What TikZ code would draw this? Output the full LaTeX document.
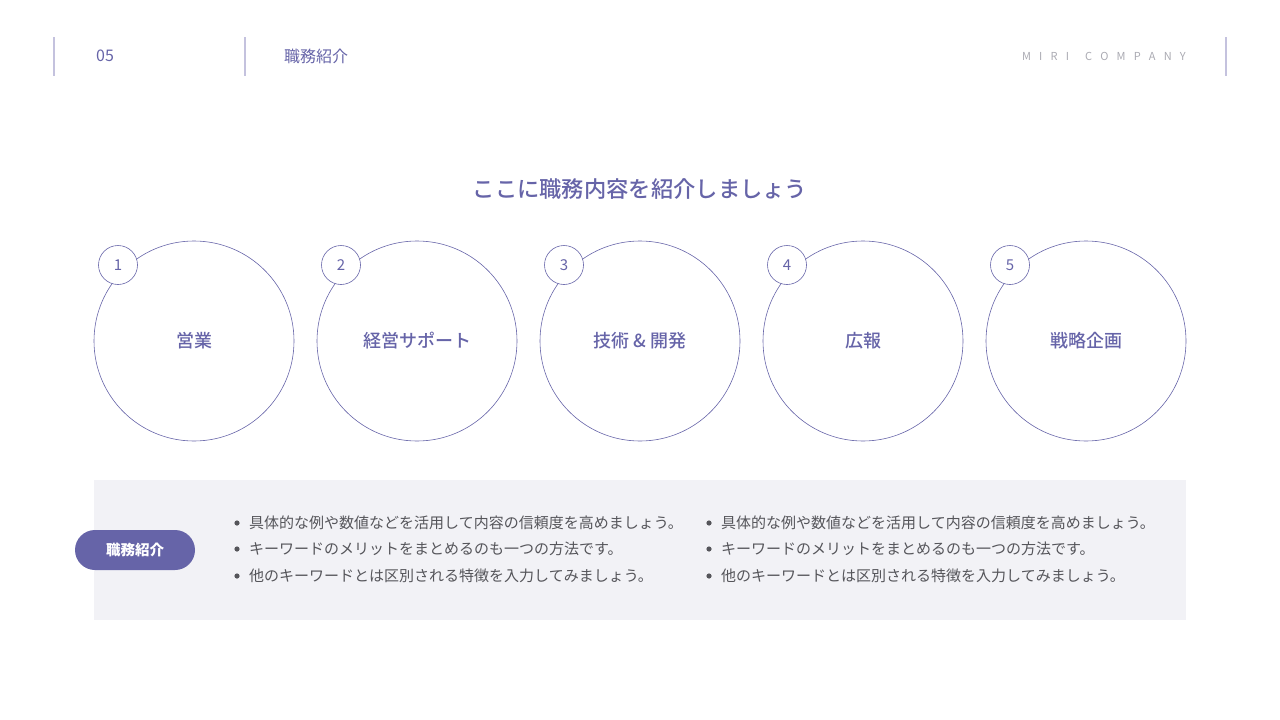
\documentclass[tikz,border=0pt]{standalone}
\usepackage{fontspec}
\setmainfont{Noto Sans CJK JP}
\newfontfamily\jpmedium{Noto Sans CJK JP Medium}
\usetikzlibrary{positioning,calc}
\definecolor{miripurple}{RGB}{102,100,168}
\definecolor{mirilavender}{RGB}{196,194,222}
\definecolor{mirigray}{RGB}{242,242,246}
\definecolor{miritext}{RGB}{85,85,90}
\definecolor{mirilight}{RGB}{170,170,178}
\tikzset{
  bigcircle/.style={circle, draw=miripurple, line width=0.6pt, minimum size=200pt, inner sep=0pt, font=\fontsize{18}{21}\jpmedium, text=miripurple},
  numcircle/.style={circle, draw=miripurple, line width=0.6pt, fill=white, minimum size=39pt, inner sep=0pt, font=\fontsize{15}{18}\selectfont, text=miripurple},
  bulletline/.style={anchor=west, font=\fontsize{15}{17}\selectfont, text=miritext, inner sep=0pt},
  sepline/.style={draw=mirilavender, line width=1.2pt}
}
\begin{document}
\begin{tikzpicture}[x=1pt, y=-1pt]
  \useasboundingbox (0,0) rectangle (1280,720);
  % header
  \draw[sepline] (54,37) -- (54,76);
  \draw[sepline] (245,37) -- (245,76);
  \draw[sepline] (1226,37) -- (1226,76);
  \node[font=\fontsize{16}{18}\selectfont, text=miripurple] (pagenum) at (105,56) {05};
  \node[anchor=west, inner sep=0pt, font=\fontsize{16}{18}\selectfont, text=miripurple] (section) at (284,56) {職務紹介};
  \node[anchor=east, inner sep=0pt, font=\fontsize{11}{13}\selectfont, text=mirilight] (company) at (1186,56) {M\hspace{8.2pt}I\hspace{8.2pt}R\hspace{8.2pt}I\hspace{16pt}C\hspace{8.2pt}O\hspace{8.2pt}M\hspace{8.2pt}P\hspace{8.2pt}A\hspace{8.2pt}N\hspace{8.2pt}Y};

  % title
  \node[font=\fontsize{22.3}{25}\jpmedium, text=miripurple] (title) at (640,189) {ここに職務内容を紹介しましょう};

  % circles
  \foreach \i/\x/\lbl in {1/194/営業, 2/417/経営サポート, 3/640/技術 \& 開発, 4/863/広報, 5/1086/戦略企画} {
    \node[bigcircle] (c\i) at (\x,341) {\lbl};
    \node[numcircle] (n\i) at ($(c\i.center)+(-76,-76)$) {\i};
  }

  % description panel
  \fill[mirigray] (94,480) rectangle (1186,620);
  \node[fill=miripurple, rounded corners=20pt, minimum width=120pt, minimum height=40pt, inner sep=0pt, text=white, font=\fontsize{14.5}{16}\selectfont\bfseries] (pill) at (135,550) {職務紹介};
  \foreach \col/\x in {a/237, b/709} {
    \foreach \j/\y/\txt in {1/523/具体的な例や数値などを活用して内容の信頼度を高めましょう。, 2/549/キーワードのメリットをまとめるのも一つの方法です。, 3/576/他のキーワードとは区別される特徴を入力してみましょう。} {
      \fill[miritext] (\x,\y) circle (2.6);
      \node[bulletline] (t\col\j) at (\x+12,\y) {\txt};
    }
  }
\end{tikzpicture}
\end{document}
